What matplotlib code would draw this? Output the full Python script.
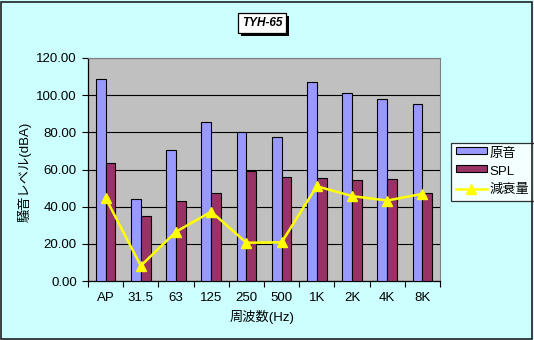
import numpy as np
import matplotlib
matplotlib.use('Agg')
from matplotlib import pyplot as plt
from matplotlib.patches import Rectangle

plt.rcParams['font.family'] = ['Liberation Sans', 'Noto Sans CJK JP', 'DejaVu Sans']

categories = ['AP', '31.5', '63', '125', '250', '500', '1K', '2K', '4K', '8K']
original = [108.6, 44.0, 70.5, 85.4, 80.0, 77.3, 107.3, 101.0, 98.1, 95.3]
spl = [63.3, 34.9, 43.0, 47.3, 59.2, 56.1, 55.2, 54.1, 54.7, 47.1]
attenuation = [44.7, 8.2, 26.5, 37.3, 20.6, 20.8, 51.0, 45.7, 43.3, 46.9]

W, H = 534, 340
fig = plt.figure(figsize=(W / 100, H / 100), dpi=100)
fig.patch.set_facecolor('#CCFFFF')
# outer border
fig.patches.append(Rectangle((1 / W, 1 / H), 1 - 3 / W, 1 - 3 / H, transform=fig.transFigure,
                             fill=False, edgecolor='#202020', linewidth=1.2))

# plot area in pixels: left 88, right 440, top 58, bottom 281
ax = fig.add_axes([88 / W, (H - 281) / H, (440 - 88) / W, (281 - 58) / H])
ax.set_facecolor('#C0C0C0')

x = np.arange(len(categories))
bw = 0.28
b1 = ax.bar(x - bw / 2, original, bw, color='#9999FF', edgecolor='black', linewidth=0.8,
            label='原音', zorder=3)
b2 = ax.bar(x + bw / 2, spl, bw, color='#993366', edgecolor='black', linewidth=0.8,
            label='SPL', zorder=3)
l1, = ax.plot(x, attenuation, color='#FFFF00', linewidth=1.8, marker='^', markersize=7,
              label='減衰量', zorder=4)

ax.set_xlim(-0.5, len(categories) - 0.5)
ax.set_ylim(0, 120)
ax.set_yticks(np.arange(0, 121, 20))
ax.set_yticklabels(['%.2f' % v for v in np.arange(0, 121, 20)], fontsize=9.5)
ax.set_xticks(x)
ax.set_xticklabels(categories, fontsize=9.5)
ax.set_xticks(np.arange(-0.5, len(categories), 1), minor=True)
ax.tick_params(axis='x', which='major', length=0, pad=8)
ax.tick_params(axis='x', which='minor', length=4, direction='out', width=0.8)
ax.tick_params(axis='y', length=4, direction='out', width=0.8, pad=4)
ax.grid(axis='y', color='black', linewidth=0.8, zorder=1)
for s in ['top', 'right']:
    ax.spines[s].set_color('#808080')
for s in ['left', 'bottom']:
    ax.spines[s].set_color('black')
    ax.spines[s].set_linewidth(0.9)

fig.text(25 / W, 1 - 172 / H, '騒音レベル(dBA)', rotation=90, ha='center', va='center', fontsize=9.5)
fig.text(262 / W, 1 - 317 / H, '周波数(Hz)', ha='center', va='center', fontsize=9.5)

# title box with shadow
fig.patches.append(Rectangle((241 / W, 1 - 36 / H), 48 / W, 20 / H, transform=fig.transFigure,
                             facecolor='black', edgecolor='none'))
fig.text(262 / W, 1 - 23 / H, 'TYH-65', ha='center', va='center', fontsize=8.5,
         style='italic', fontweight='bold',
         bbox=dict(boxstyle='square,pad=0.3', facecolor='white', edgecolor='black', linewidth=0.9))

leg = ax.legend([b1, b2, l1], ['原音', 'SPL', '減衰量'],
                loc='upper left', bbox_to_anchor=(451 / W, 1 - 143 / H), bbox_transform=fig.transFigure,
                fontsize=9.5, frameon=True, fancybox=False, edgecolor='black', facecolor='white',
                borderpad=0.35, labelspacing=0.45, handlelength=2.4, handletextpad=0.15,
                borderaxespad=0)
leg.get_frame().set_linewidth(0.9)
for h in leg.legend_handles[:2]:
    h.set_height(5)
    h.set_y(2)

fig.savefig('out.png', dpi=100, facecolor=fig.get_facecolor())
